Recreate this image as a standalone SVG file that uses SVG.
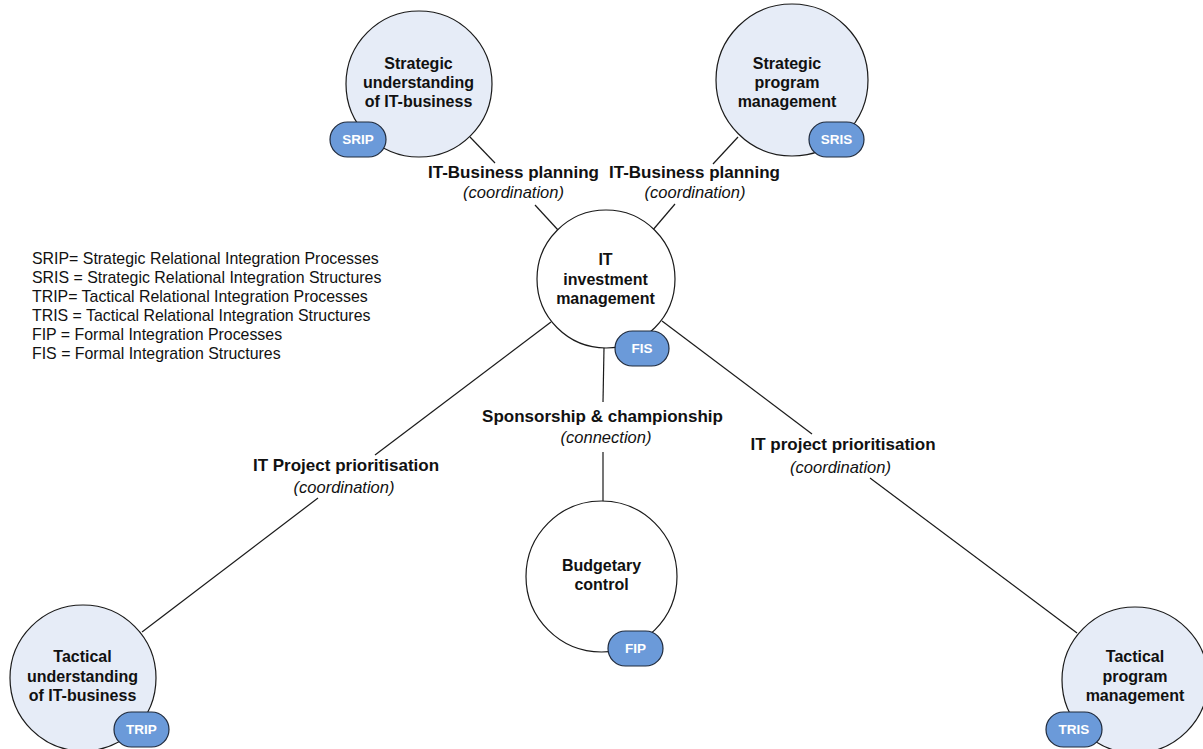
<svg xmlns="http://www.w3.org/2000/svg" width="1203" height="749" viewBox="0 0 1203 749">
  <style>
    .node { stroke: #1a1a1a; stroke-width: 1.2; }
    .blue { fill: #e6ecf7; }
    .white { fill: #ffffff; }
    .pill { fill: #6b9ad9; stroke: #1f2a3c; stroke-width: 1.2; }
    .ntext { font-family: "Liberation Sans", Arial, sans-serif; font-size: 16px; font-weight: bold; fill: #111; text-anchor: middle; }
    .ptext { font-family: "Liberation Sans", Arial, sans-serif; font-size: 13.5px; font-weight: bold; fill: #ffffff; text-anchor: middle; }
    .lbl { font-family: "Liberation Sans", Arial, sans-serif; font-size: 17px; font-weight: bold; fill: #111; text-anchor: middle; }
    .sub { font-family: "Liberation Sans", Arial, sans-serif; font-size: 16.5px; font-style: italic; fill: #111; text-anchor: middle; }
    .legend { font-family: "Liberation Sans", Arial, sans-serif; font-size: 15.9px; fill: #111; }
    .conn line { stroke: #1a1a1a; stroke-width: 1.2; }
  </style>
  <rect width="1203" height="749" fill="#ffffff"/>

  <!-- connectors, split around their labels -->
  <g id="connectors" class="conn">
    <line x1="470" y1="137" x2="495" y2="163"/>
    <line x1="535" y1="205" x2="558" y2="230"/>
    <line x1="738" y1="137" x2="713" y2="164"/>
    <line x1="675" y1="204" x2="652" y2="231"/>
    <line x1="551" y1="322" x2="375" y2="455"/>
    <line x1="318" y1="498" x2="142" y2="632"/>
    <line x1="604" y1="348" x2="603" y2="402"/>
    <line x1="603" y1="452" x2="603" y2="501"/>
    <line x1="662" y1="321" x2="812" y2="434"/>
    <line x1="870" y1="478" x2="1077" y2="633"/>
  </g>

  <!-- connector labels -->
  <g id="labels">
    <text class="lbl" x="513.5" y="178">IT-Business planning</text>
    <text class="sub" x="513.5" y="198">(coordination)</text>
    <text class="lbl" x="694.5" y="178">IT-Business planning</text>
    <text class="sub" x="695" y="198">(coordination)</text>
    <text class="lbl" x="346" y="471">IT Project prioritisation</text>
    <text class="sub" x="344" y="493">(coordination)</text>
    <text class="lbl" x="602.5" y="422">Sponsorship &amp; championship</text>
    <text class="sub" x="606" y="443">(connection)</text>
    <text class="lbl" x="843" y="450">IT project prioritisation</text>
    <text class="sub" x="840.5" y="473">(coordination)</text>
  </g>

  <!-- legend -->
  <g id="legend" class="legend">
    <text x="32" y="264">SRIP= Strategic Relational Integration Processes</text>
    <text x="32" y="283">SRIS = Strategic Relational Integration Structures</text>
    <text x="32" y="302">TRIP= Tactical Relational Integration Processes</text>
    <text x="32" y="321">TRIS = Tactical Relational Integration Structures</text>
    <text x="32" y="340">FIP = Formal Integration Processes</text>
    <text x="32" y="359">FIS = Formal Integration Structures</text>
  </g>

  <g id="strategic-understanding">
    <circle class="node blue" cx="419" cy="84" r="73"/>
    <text class="ntext" x="418.5" y="69">Strategic</text>
    <text class="ntext" x="418.5" y="88">understanding</text>
    <text class="ntext" x="418.5" y="107">of IT-business</text>
    <rect class="pill" x="330" y="122" width="56" height="35" rx="17.5"/>
    <text class="ptext" x="358" y="144">SRIP</text>
  </g>

  <g id="strategic-program">
    <circle class="node blue" cx="792" cy="80" r="76"/>
    <text class="ntext" x="787" y="69">Strategic</text>
    <text class="ntext" x="787" y="88">program</text>
    <text class="ntext" x="787" y="107">management</text>
    <rect class="pill" x="809" y="122" width="55" height="35" rx="17.5"/>
    <text class="ptext" x="836.5" y="144">SRIS</text>
  </g>

  <g id="it-investment">
    <circle class="node white" cx="606" cy="279" r="69"/>
    <text class="ntext" x="605.5" y="265">IT</text>
    <text class="ntext" x="605.5" y="285">investment</text>
    <text class="ntext" x="605.5" y="304">management</text>
    <rect class="pill" x="615" y="331" width="54" height="35" rx="17.5"/>
    <text class="ptext" x="642" y="353">FIS</text>
  </g>

  <g id="budgetary-control">
    <circle class="node white" cx="601.5" cy="576.5" r="75.5"/>
    <text class="ntext" x="601.5" y="571">Budgetary</text>
    <text class="ntext" x="601.5" y="590">control</text>
    <rect class="pill" x="608" y="631" width="55" height="35" rx="17.5"/>
    <text class="ptext" x="635.5" y="653">FIP</text>
  </g>

  <g id="tactical-understanding">
    <circle class="node blue" cx="83" cy="678" r="73"/>
    <text class="ntext" x="82.5" y="662">Tactical</text>
    <text class="ntext" x="82.5" y="682">understanding</text>
    <text class="ntext" x="82.5" y="701">of IT-business</text>
    <rect class="pill" x="114" y="712" width="55" height="35" rx="17.5"/>
    <text class="ptext" x="141.5" y="734">TRIP</text>
  </g>

  <g id="tactical-program">
    <circle class="node blue" cx="1135" cy="680" r="73"/>
    <text class="ntext" x="1135" y="662">Tactical</text>
    <text class="ntext" x="1135" y="682">program</text>
    <text class="ntext" x="1135" y="701">management</text>
    <rect class="pill" x="1046" y="712" width="56" height="35" rx="17.5"/>
    <text class="ptext" x="1074" y="734">TRIS</text>
  </g>
</svg>
